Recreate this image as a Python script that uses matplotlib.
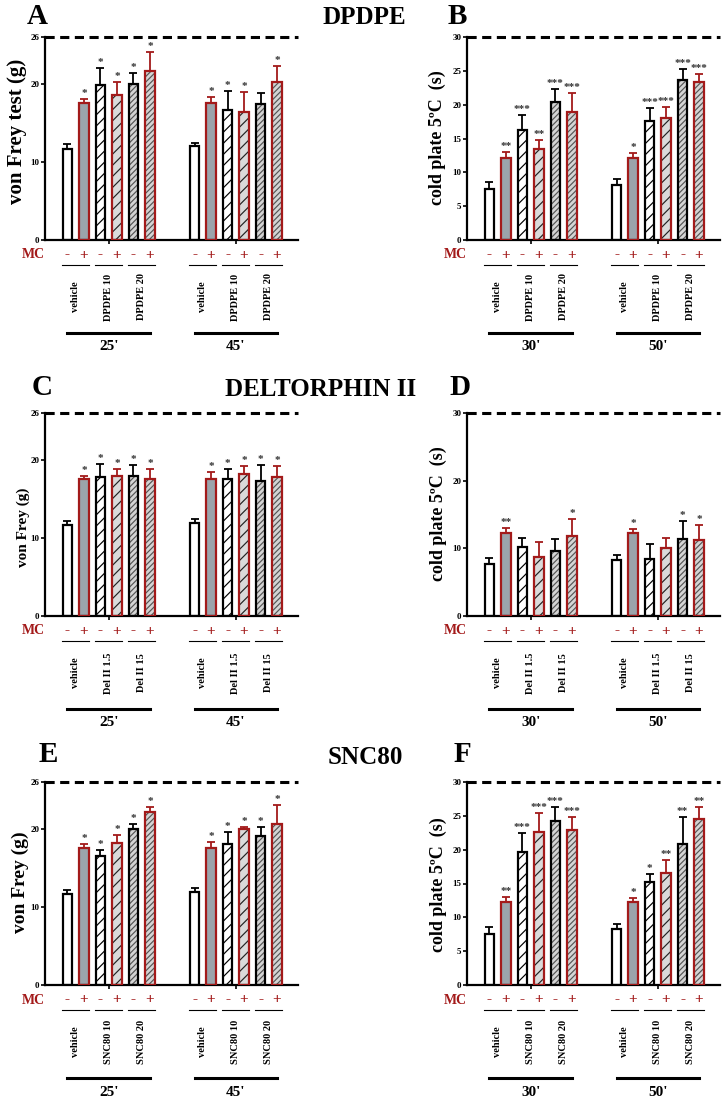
import numpy as np
import matplotlib
matplotlib.use('Agg')
import matplotlib.pyplot as plt
import matplotlib.transforms as mtransforms

plt.rcParams['font.family'] = 'Liberation Serif'
plt.rcParams['font.weight'] = 'bold'
plt.rcParams['hatch.linewidth'] = 0.85

RED = '#a31a1a'
GRAY = '#9ba4ab'
LIGHT = '#dadada'

# ---- data ----
signs = ['-', '+', '-', '+', '-', '+', '-', '+', '-', '+', '-', '+']

# A: DPDPE, von Frey
a_mean = [11.7, 17.55, 19.9, 18.6, 20.0, 21.65, 12.0, 17.5, 16.7, 16.4, 17.45, 20.2]
a_err = [0.55, 0.5, 2.1, 1.7, 1.4, 2.45, 0.45, 0.85, 2.35, 2.5, 1.4, 2.1]
a_stars = ['', '*', '*', '*', '*', '*', '', '*', '*', '*', '', '*']

# B: DPDPE, cold plate
b_mean = [7.6, 12.15, 16.2, 13.4, 20.4, 18.9, 8.2, 12.15, 17.6, 18.0, 23.7, 23.4]
b_err = [0.9, 0.85, 2.2, 1.4, 1.9, 2.8, 0.8, 0.7, 1.9, 1.6, 1.6, 1.2]
b_stars = ['', '**', '***', '**', '***', '***', '', '*', '***', '***', '***', '***']

# C: Deltorphin II, von Frey
c_mean = [11.7, 17.5, 17.8, 17.9, 17.9, 17.5, 11.95, 17.5, 17.5, 18.2, 17.3, 17.8]
c_err = [0.5, 0.45, 1.65, 0.9, 1.45, 1.3, 0.45, 0.9, 1.35, 1.0, 2.0, 1.4]
c_stars = ['', '*', '*', '*', '*', '*', '', '*', '*', '*', '*', '*']

# D: Deltorphin II, cold plate
d_mean = [7.7, 12.2, 10.2, 8.7, 9.55, 11.75, 8.25, 12.2, 8.45, 10.0, 11.4, 11.25]
d_err = [0.8, 0.8, 1.3, 2.2, 1.85, 2.55, 0.8, 0.7, 2.25, 1.5, 2.7, 2.15]
d_stars = ['', '**', '', '', '', '*', '', '*', '', '', '*', '*']

# E: SNC80, von Frey
e_mean = [11.7, 17.55, 16.5, 18.15, 20.0, 22.1, 11.95, 17.5, 18.0, 20.0, 19.1, 20.6]
e_err = [0.5, 0.45, 0.8, 1.05, 0.6, 0.75, 0.45, 0.8, 1.65, 0.3, 1.15, 2.45]
e_stars = ['', '*', '*', '*', '*', '*', '', '*', '*', '*', '*', '*']

# F: SNC80, cold plate
f_mean = [7.6, 12.2, 19.6, 22.65, 24.3, 22.95, 8.25, 12.2, 15.2, 16.55, 20.9, 24.6]
f_err = [0.9, 0.8, 2.8, 2.8, 2.0, 1.95, 0.8, 0.7, 1.25, 1.85, 4.0, 1.7]
f_stars = ['', '**', '***', '***', '***', '***', '', '*', '*', '**', '**', '**']

dpdpe_groups = ['vehicle', 'DPDPE 10', 'DPDPE 20']
delt_groups = ['vehicle', 'Del II 1.5', 'Del II 15']
snc_groups = ['vehicle', 'SNC80 10', 'SNC80 20']
vf_times = ["25'", "45'"]
cp_times = ["30'", "50'"]
vf_ticks = [0, 10, 20, 26]

# bar styles: (face, hatch, hatch colour, edge)
styles = [('white', None, 'black', 'black'),
          (GRAY, None, RED, RED),
          ('white', '///', 'black', 'black'),
          (LIGHT, '///', '#222222', RED),
          ('#d4d4d4', '//////', '#555555', 'black'),
          ('#d4d4d4', '//////', '#555555', RED)]

x = np.r_[np.arange(6), np.arange(6) + 7.7]

W, H = 723, 1104
fig = plt.figure(figsize=(W / 100, H / 100), dpi=100)


def off(ax, dx_px, dy_px):
    return mtransforms.ScaledTranslation(dx_px / 100, -dy_px / 100, fig.dpi_scale_trans)


def panel(left, top, mean, err, stars, ymax, yticks, groups, times, ylabel, ylab_x, ylab_y, ylab_size):
    ax = fig.add_axes([left / W, 1 - (top + 203) / H, 253 / W, 203 / H])
    for i in range(12):
        face, hatch, hcol, edge = styles[i % 6]
        ax.bar(x[i], mean[i], width=0.58, color=face, hatch=hatch, edgecolor=hcol, linewidth=0, zorder=2)
        ax.bar(x[i], mean[i], width=0.58, fill=False, edgecolor=edge, linewidth=1.6, zorder=3)
        ec = 'black' if edge == 'black' else RED
        ax.errorbar(x[i], mean[i], yerr=[[0], [err[i]]], fmt='none', ecolor=ec,
                    elinewidth=1.3, capsize=3, capthick=1.3, zorder=1)
        if stars[i]:
            ax.text(x[i], mean[i] + err[i], stars[i], ha='center', va='bottom',
                    fontsize=8, color='#333333',
                    transform=ax.transData + off(ax, 0, -1))
    ax.axhline(ymax, color='black', lw=2.2, ls=(0, (3, 1.8)), clip_on=False, zorder=4)
    ax.set_xlim(-1.36, 13.97)
    ax.set_ylim(0, ymax)
    ax.set_yticks(yticks)
    ax.set_xticks([2.5, 10.2])
    ax.set_xticklabels([])
    ax.tick_params(axis='y', labelsize=6.5, length=3, width=1.2, pad=1)
    ax.tick_params(axis='x', length=3, width=1.2)
    for s in ['top', 'right']:
        ax.spines[s].set_visible(False)
    for s in ['left', 'bottom']:
        ax.spines[s].set_linewidth(1.6)

    blend = mtransforms.blended_transform_factory(ax.transData, ax.transAxes)
    # MC row
    ax.text(0, 0, 'MC', ha='center', va='center', fontsize=10, color=RED,
            transform=ax.transAxes + off(ax, -12, 15))
    for i in range(12):
        ax.text(x[i], 0, signs[i], ha='center', va='center', fontsize=11, color=RED,
                transform=blend + off(ax, 0, 15))
    for g in range(6):
        cx = (x[2 * g] + x[2 * g + 1]) / 2
        ax.plot([cx - 0.82, cx + 0.82], [0, 0], color='black', lw=0.8,
                transform=blend + off(ax, 0, 25), clip_on=False)
        ax.text(cx, 0, groups[g % 3], rotation=90, ha='center', va='center', fontsize=7.5,
                transform=blend + off(ax, 0, 57))
    for k in range(2):
        ax.plot([x[6 * k], x[6 * k + 5]], [0, 0], color='black', lw=2.2,
                transform=blend + off(ax, 0, 93), clip_on=False)
        ax.text((x[6 * k] + x[6 * k + 5]) / 2, 0, times[k], ha='center', va='center', fontsize=11,
                transform=blend + off(ax, 0, 107))
    fig.text(ylab_x / W, 1 - ylab_y / H, ylabel, rotation=90, ha='center', va='center',
             fontsize=ylab_size)
    return ax


cp_label = 'cold plate 5ºC  (s)'
panel(45, 37, a_mean, a_err, a_stars, 26, vf_ticks, dpdpe_groups, vf_times,
      'von Frey test (g)', 17, 131, 15)
panel(467, 37, b_mean, b_err, b_stars, 30, [0, 5, 10, 15, 20, 25, 30], dpdpe_groups, cp_times,
      cp_label, 437, 138, 13)
panel(45, 413, c_mean, c_err, c_stars, 26, vf_ticks, delt_groups, vf_times,
      'von Frey (g)', 23, 527, 11)
panel(467, 413, d_mean, d_err, d_stars, 30, [0, 10, 20, 30], delt_groups, cp_times,
      cp_label, 438, 514, 13)
panel(45, 782, e_mean, e_err, e_stars, 26, vf_ticks, snc_groups, vf_times,
      'von Frey (g)', 20, 882, 14)
panel(467, 782, f_mean, f_err, f_stars, 30, [0, 5, 10, 15, 20, 25, 30], snc_groups, cp_times,
      cp_label, 438, 885, 13)

# panel letters and titles
for letter, px, py in [('A', 37, 17), ('B', 457, 17), ('C', 42, 387),
                       ('D', 460, 387), ('E', 48, 755), ('F', 462, 755)]:
    fig.text(px / W, 1 - py / H, letter, ha='center', va='center', fontsize=21)
for title, px, py in [('DPDPE', 364, 17), ('DELTORPHIN II', 321, 389), ('SNC80', 365, 757)]:
    fig.text(px / W, 1 - py / H, title, ha='center', va='center', fontsize=18)

fig.savefig('out.png', dpi=100)
